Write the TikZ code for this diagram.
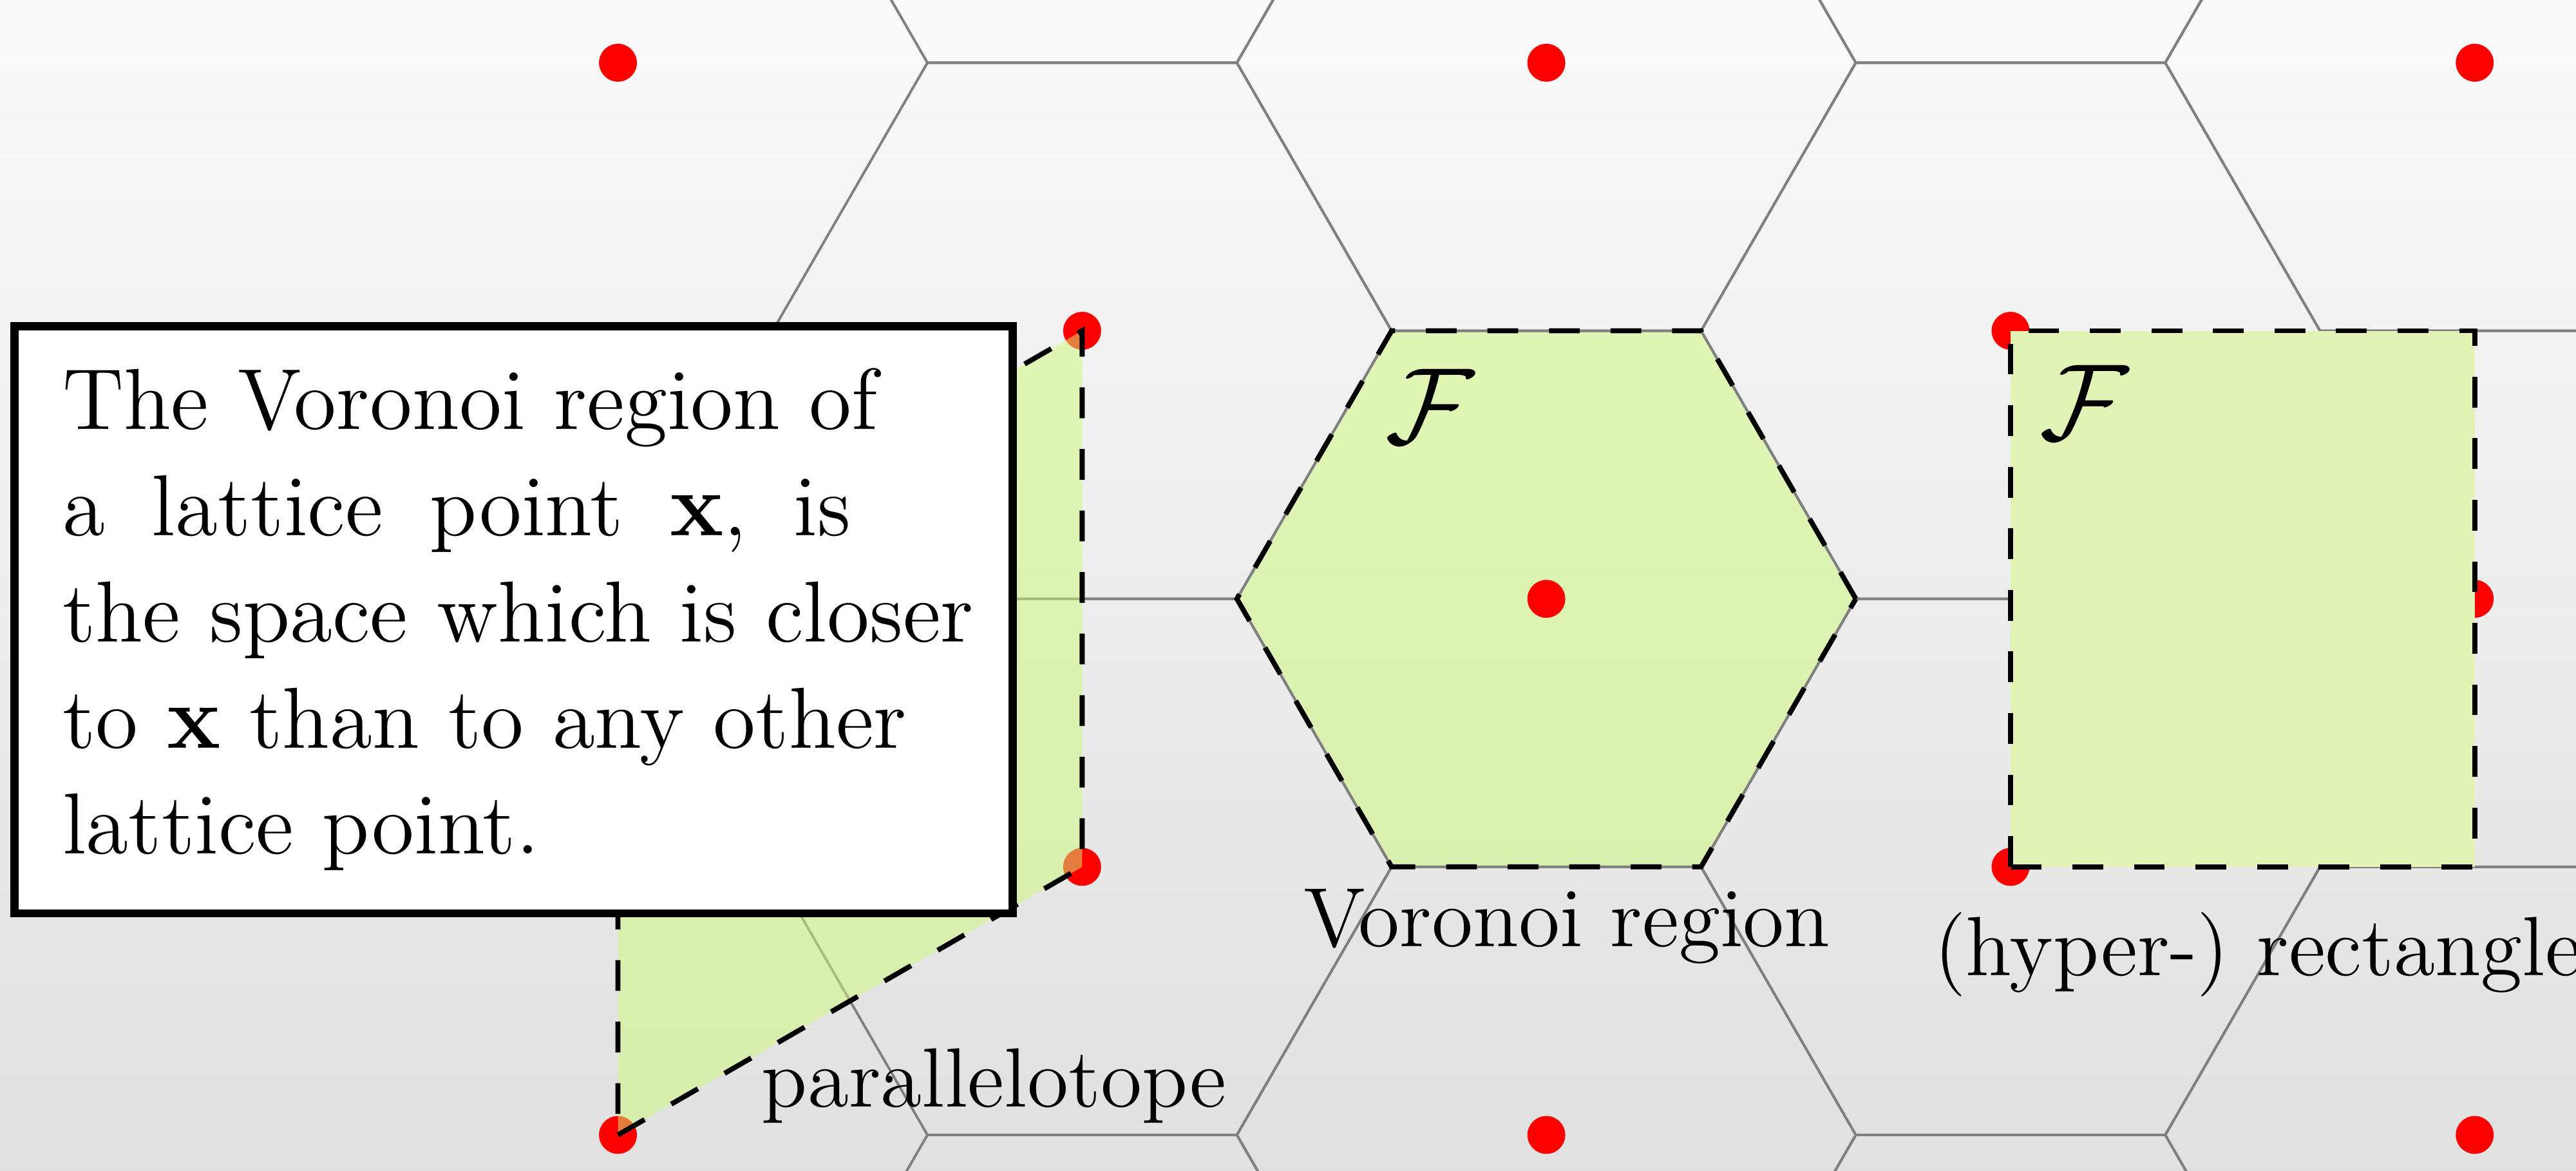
\documentclass[tikz,border=0pt]{standalone}
\usepackage{amsmath}
\definecolor{cellgreen}{RGB}{205,250,120}
\definecolor{rectgreen}{RGB}{225,244,181}
\newcommand{\hexrad}{0.57735}
\newcommand{\halfsq}{0.86603}
\newcommand{\wsp}{\hspace{0.54em}}
\tikzset{
  gridline/.style={gray, line width=0.4pt},
  rim/.style={black, line width=0.8pt, dash pattern=on 4.9pt off 4.9pt},
  lbl/.style={inner sep=0pt, font=\fontsize{13.4}{16}\selectfont},
  calF/.style={inner sep=0pt, font=\fontsize{18}{22}\selectfont}
}
\begin{document}
\begin{tikzpicture}[x=3cm, y=3cm]
  \useasboundingbox (-2.885,-1.067) rectangle (1.921,1.117);
  \shade[top color=white!98!black, bottom color=white!88!black] (-2.885,-1.067) rectangle (1.921,1.117);
  \begin{scope}
    \clip (-2.885,-1.067) rectangle (1.921,1.117);
    \fill[cellgreen, opacity=0.5] (0:\hexrad) -- (60:\hexrad) -- (120:\hexrad) -- (180:\hexrad) -- (240:\hexrad) -- (300:\hexrad) -- cycle;
    \foreach \i in {-1,...,2}
      \foreach \j in {-2,...,2}
        \draw[gridline] ({\i*\halfsq+\hexrad},{\j+(\i)/2}) -- ++(120:\hexrad) -- ++(180:\hexrad) -- ++(240:\hexrad) -- ++(300:\hexrad) -- ++(0:\hexrad) -- cycle;
    \foreach \i in {-2,...,2}
      \foreach \j in {-2,...,2}
        \fill[red] ({\i*\halfsq},{\j+(\i)/2}) circle (0.106cm);
  \end{scope}
  \filldraw[rim, fill=rectgreen] (\halfsq,-0.5) rectangle (2*\halfsq,0.5);
  \filldraw[rim, fill=cellgreen, fill opacity=0.5] (-2*\halfsq,-1) -- (-\halfsq,-0.5) -- (-\halfsq,0.5) -- (-2*\halfsq,0) -- cycle;
  \draw[rim] (0:\hexrad) -- (60:\hexrad) -- (120:\hexrad) -- (180:\hexrad) -- (240:\hexrad) -- (300:\hexrad) -- cycle;
  \node[calF] (fhex) at (-0.217,0.359) {$\mathcal{F}$};
  \node[calF] (frect) at (1.003,0.366) {$\mathcal{F}$};
  \node[lbl, anchor=base west] (vorlabel) at (-0.455,-0.649) {Voronoi region};
  \node[lbl, anchor=base west] (rectlabel) at (0.721,-0.703) {(hyper-) rectangle};
  \node[lbl, anchor=base west] (parlabel) at (-1.466,-0.948) {parallelotope};
  \node[draw, line width=1.33pt, fill=white, outer sep=0pt, inner xsep=0.27cm, text width=5.046cm,
        minimum height=3.287cm, align=left, anchor=north west, font=\fontsize{13.8}{16.9}\selectfont]
        (voronoibox) at (-2.858,0.509)
        {The Voronoi region of\\
         a\wsp lattice\wsp point\wsp $\mathbf{x}$,\wsp is\\
         \mbox{the space which is closer}\\
         to $\mathbf{x}$ than to any other\\
         lattice point.};
\end{tikzpicture}
\end{document}
